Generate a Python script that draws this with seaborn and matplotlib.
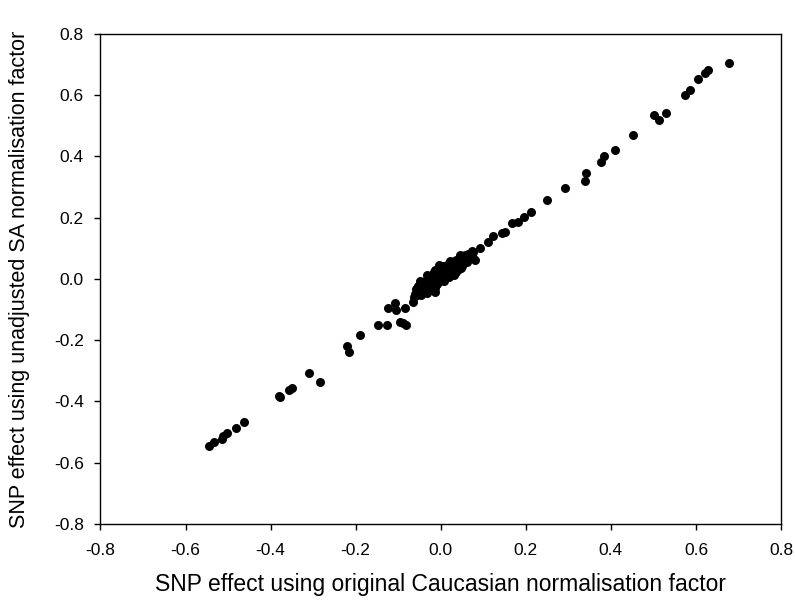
import matplotlib
matplotlib.use("Agg")
import matplotlib.pyplot as plt
import seaborn as sns
import pandas as pd

# Outlying points
x_out = [-0.545, -0.532, -0.515, -0.511, -0.502, -0.482, -0.463, -0.380, -0.378, -0.356, -0.350,
         -0.310, -0.285, -0.221, -0.215, -0.189, -0.148, -0.127, -0.123, -0.108, -0.106, -0.096,
         -0.088, -0.082, -0.084, -0.066, -0.064,
         0.045, 0.057, 0.081, 0.077, 0.092, 0.112, 0.124, 0.143, 0.151, 0.167, 0.181, 0.195,
         0.212, 0.249, 0.293, 0.340, 0.342, 0.377, 0.383, 0.409, 0.453, 0.501, 0.513, 0.530,
         0.574, 0.586, 0.605, 0.621, 0.628, 0.678]
y_out = [-0.545, -0.532, -0.521, -0.513, -0.504, -0.485, -0.466, -0.383, -0.386, -0.361, -0.357,
         -0.306, -0.337, -0.218, -0.238, -0.183, -0.150, -0.150, -0.096, -0.080, -0.102, -0.139,
         -0.144, -0.150, -0.096, -0.074, -0.058,
         0.078, 0.075, 0.062, 0.089, 0.100, 0.122, 0.139, 0.150, 0.154, 0.182, 0.187, 0.201,
         0.218, 0.258, 0.296, 0.321, 0.347, 0.383, 0.400, 0.422, 0.470, 0.534, 0.519, 0.541,
         0.601, 0.617, 0.652, 0.672, 0.681, 0.704]

# Dense central cluster
x_clu = [-0.061, -0.058, -0.055, -0.053, -0.051, -0.048, -0.046, -0.043, -0.043, -0.041,
         -0.038, -0.037, -0.035, -0.033, -0.031, -0.029, -0.028, -0.025, -0.023, -0.023,
         -0.021, -0.018, -0.017, -0.015, -0.013, -0.013, -0.011, -0.009, -0.008, -0.005,
         -0.003, -0.001, 0.001, 0.002, 0.005, 0.007, 0.009, 0.011, 0.012, 0.015,
         0.017, 0.019, 0.022, 0.025, 0.027, 0.029, 0.032, 0.035, 0.037, 0.042,
         0.044, 0.046, 0.051, 0.054, 0.056, 0.061, 0.064, 0.066, 0.071, 0.074,
         0.076, -0.033, -0.018, -0.003, 0.007, 0.022, -0.048, 0.037, 0.048, -0.013]
y_clu = [-0.048, -0.033, -0.053, -0.023, -0.043, -0.028, -0.053, -0.013, -0.043, -0.028,
         -0.038, -0.008, -0.026, -0.046, -0.003, -0.018, -0.036, 0.002, -0.013, -0.030,
         0.012, -0.020, 0.022, -0.003, 0.030, -0.028, 0.010, -0.016, 0.017, 0.002,
         0.032, -0.008, 0.020, 0.007, 0.042, 0.022, 0.002, 0.034, 0.012, 0.047,
         0.027, 0.007, 0.042, 0.022, 0.057, 0.032, 0.014, 0.047, 0.062, 0.032,
         0.052, 0.072, 0.042, 0.062, 0.077, 0.057, 0.082, 0.070, 0.077, 0.092,
         0.067, 0.012, 0.007, 0.047, -0.006, 0.060, -0.008, 0.022, 0.037, -0.043]

x_all = x_out + x_clu
y_all = y_out + y_clu
df = pd.DataFrame({"x": x_all, "y": y_all})

ticks = [-0.8, -0.6, -0.4, -0.2, 0.0, 0.2, 0.4, 0.6, 0.8]
tick_labels = ["-0.8", "-0.6", "-0.4", "-0.2", "0.0", "0.2", "0.4", "0.6", "0.8"]

sns.set_style("ticks")
plt.rcParams["font.family"] = ["Liberation Sans", "DejaVu Sans"]
plt.rcParams["text.color"] = "black"
plt.rcParams["axes.labelcolor"] = "black"
plt.rcParams["xtick.color"] = "black"
plt.rcParams["ytick.color"] = "black"

fig = plt.figure(figsize=(7.95, 6.05), dpi=100)
ax = fig.add_axes([0.1264, 0.1339, 0.856, 0.8099])
sns.scatterplot(data=df, x="x", y="y", ax=ax, color="black", s=42, edgecolor="black",
                linewidth=0, legend=False)

ax.set_xlim(-0.8, 0.8)
ax.set_ylim(-0.8, 0.8)
ax.set_xticks(ticks)
ax.set_xticklabels(tick_labels, fontsize=12.5)
ax.set_yticks(ticks)
ax.set_yticklabels(tick_labels, fontsize=12.5)
ax.tick_params(direction="out", length=4.5, width=1, colors="black")
ax.tick_params(axis="x", pad=9)
ax.tick_params(axis="y", pad=7.5)
for sp in ax.spines.values():
    sp.set_visible(True)
    sp.set_linewidth(1)
    sp.set_color("black")

ax.set_xlabel("SNP effect using original Caucasian normalisation factor", fontsize=16.5, labelpad=11)
ax.set_ylabel("SNP effect using unadjusted SA normalisation factor", fontsize=15.5, labelpad=17)

fig.savefig("out.png", dpi=100)
